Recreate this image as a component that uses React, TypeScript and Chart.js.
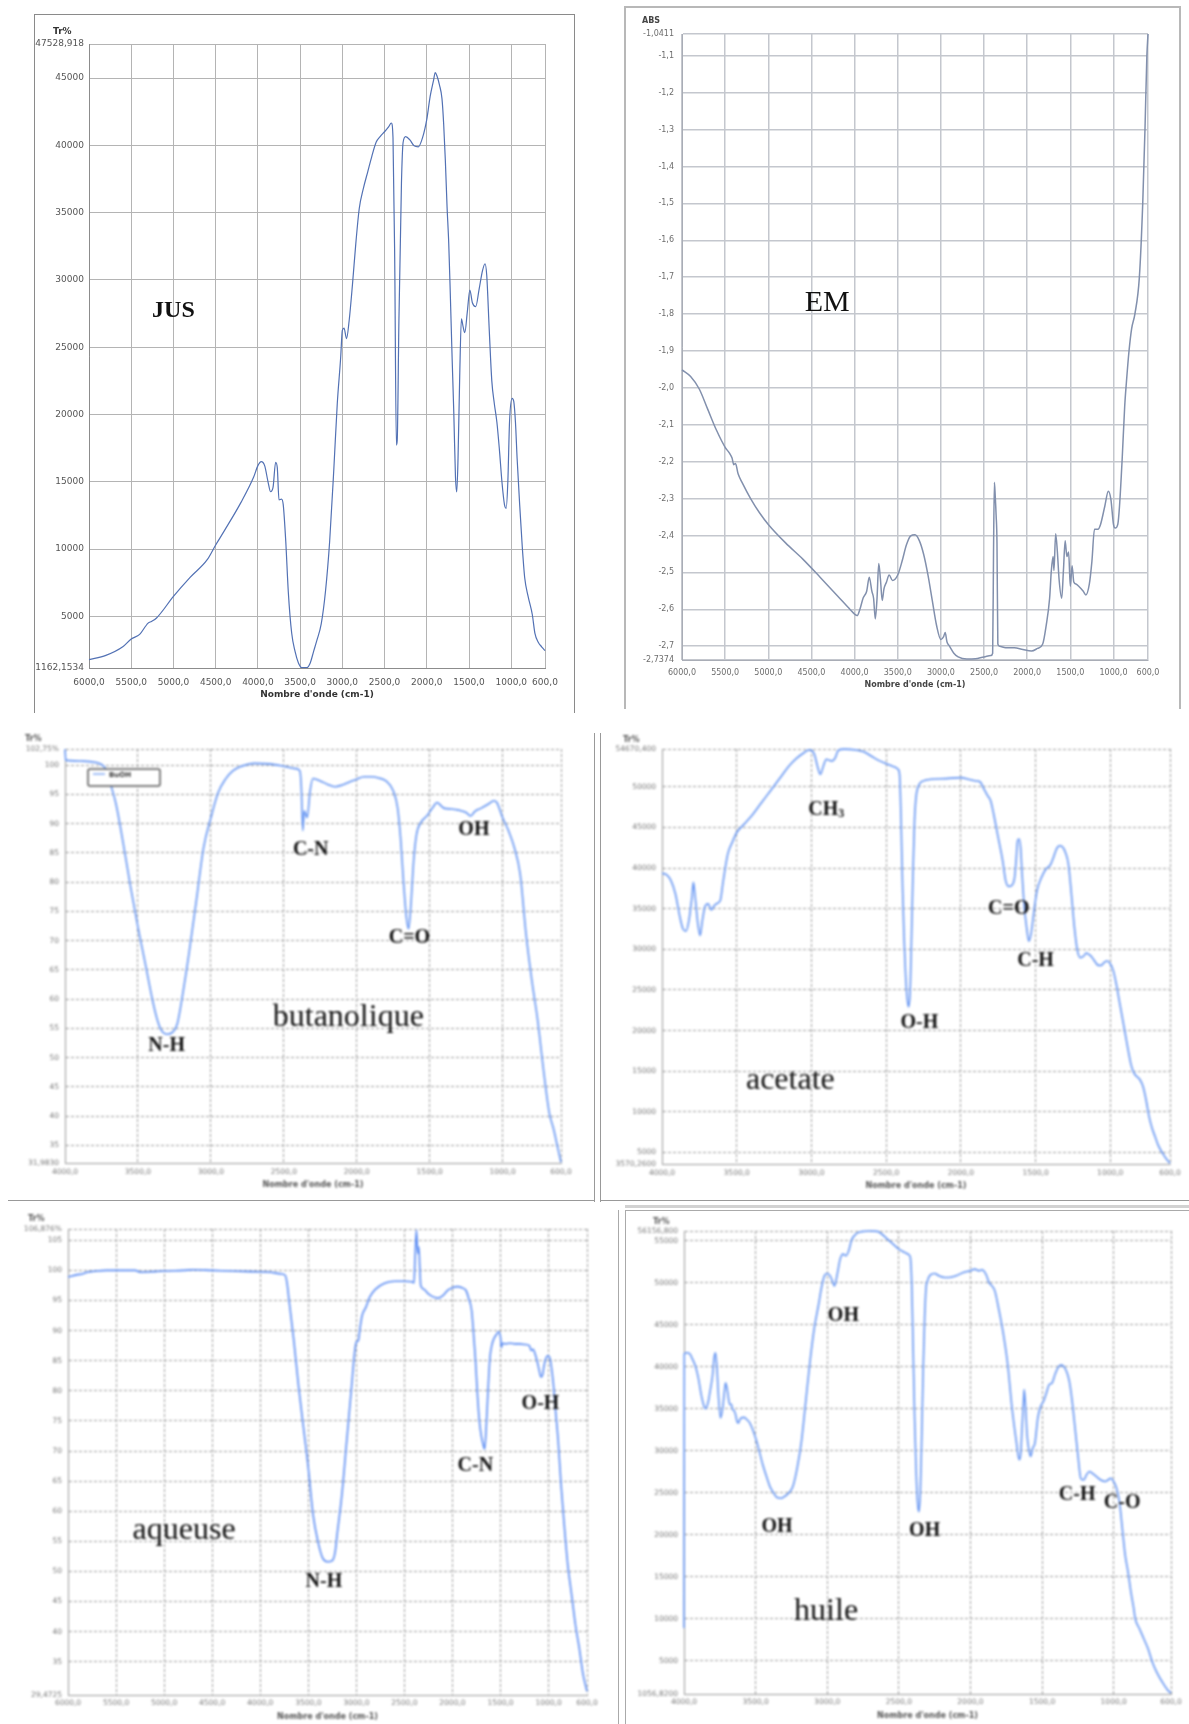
import { useEffect, useRef } from 'react';
import { Chart, registerables } from 'chart.js';

Chart.register(...registerables);

const SANS = '"DejaVu Sans", Verdana, sans-serif';
const SERIF = '"Liberation Serif", "Times New Roman", serif';
const X_TITLE = "Nombre d'onde (cm-1)";

// Wavenumber ticks (cm-1), axes run from high to low
const xTicksWide = [6000, 5500, 5000, 4500, 4000, 3500, 3000, 2500, 2000, 1500, 1000, 600];
const xTicksShort = [4000, 3500, 3000, 2500, 2000, 1500, 1000, 600];

// ---------- JUS (Tr%) ----------
const jusWavenumber = [6000, 5800, 5600, 5500, 5400, 5300, 5260, 5200, 5000, 4800, 4600, 4500, 4400, 4200, 4050, 4000, 3960, 3920, 3880, 3850, 3820, 3790, 3770, 3750, 3720, 3700, 3670, 3640, 3600, 3560, 3520, 3480, 3420, 3380, 3340, 3300, 3250, 3200, 3150, 3100, 3060, 3020, 3000, 2980, 2950, 2920, 2880, 2840, 2800, 2750, 2700, 2650, 2600, 2550, 2500, 2450, 2420, 2400, 2380, 2360, 2350, 2330, 2300, 2280, 2250, 2200, 2150, 2100, 2050, 2000, 1960, 1920, 1900, 1880, 1850, 1820, 1800, 1780, 1760, 1740, 1720, 1700, 1680, 1660, 1645, 1630, 1610, 1590, 1570, 1550, 1520, 1490, 1460, 1420, 1380, 1340, 1310, 1290, 1260, 1230, 1200, 1170, 1140, 1110, 1080, 1060, 1040, 1020, 990, 970, 950, 930, 900, 870, 840, 800, 750, 720, 680, 640, 600];
const jusTransmittance = [1780, 2100, 2740, 3320, 3660, 4500, 4620, 4880, 6480, 7910, 9210, 10300, 11330, 13470, 15350, 16200, 16500, 16200, 15000, 14260, 14600, 16450, 16030, 13650, 13710, 13300, 10580, 6830, 3760, 2400, 1540, 1200, 1200, 1540, 2400, 3250, 4440, 6830, 10580, 16030, 20800, 24200, 26250, 26420, 25640, 26930, 29660, 32730, 35290, 36820, 38010, 39200, 40230, 40670, 41010, 41390, 41660, 40570, 31700, 17730, 18070, 26930, 37160, 40230, 40640, 40400, 39960, 39890, 40570, 41930, 43640, 44830, 45410, 45170, 44490, 43470, 41590, 38860, 35460, 32730, 28640, 24210, 20120, 15340, 14250, 16710, 22850, 27100, 26530, 26080, 27620, 29250, 28300, 28020, 29320, 30690, 31200, 30340, 26250, 22500, 20800, 19440, 17390, 15000, 13300, 13030, 15000, 19440, 21200, 20970, 19440, 16710, 13300, 10240, 7850, 6480, 5120, 3760, 3080, 2740, 2460];
const jusYTicks = [1162.1534, 5000, 10000, 15000, 20000, 25000, 30000, 35000, 40000, 45000, 47528.918];

// ---------- EM (ABS) ----------
const emWavenumber = [6000, 5900, 5800, 5700, 5600, 5500, 5450, 5420, 5400, 5380, 5350, 5300, 5200, 5100, 5000, 4800, 4600, 4400, 4200, 4050, 4000, 3970, 3940, 3900, 3860, 3830, 3800, 3780, 3760, 3740, 3720, 3700, 3680, 3660, 3630, 3600, 3560, 3500, 3450, 3400, 3350, 3300, 3250, 3200, 3150, 3100, 3050, 3000, 2970, 2950, 2930, 2900, 2850, 2800, 2700, 2600, 2500, 2420, 2400, 2390, 2380, 2370, 2360, 2350, 2340, 2320, 2250, 2150, 2050, 1950, 1880, 1820, 1780, 1740, 1720, 1700, 1690, 1670, 1650, 1630, 1600, 1580, 1560, 1540, 1520, 1500, 1480, 1460, 1430, 1400, 1350, 1320, 1280, 1250, 1220, 1180, 1150, 1100, 1060, 1030, 1000, 980, 950, 930, 900, 870, 850, 820, 790, 752, 700, 661, 635, 613, 600];
const emAbsorbance = [-1.951, -1.969, -2.003, -2.059, -2.115, -2.161, -2.177, -2.19, -2.208, -2.205, -2.233, -2.258, -2.302, -2.339, -2.37, -2.42, -2.464, -2.513, -2.563, -2.601, -2.613, -2.617, -2.601, -2.569, -2.551, -2.513, -2.551, -2.57, -2.626, -2.57, -2.476, -2.52, -2.576, -2.545, -2.526, -2.507, -2.522, -2.507, -2.47, -2.426, -2.401, -2.398, -2.414, -2.451, -2.507, -2.576, -2.644, -2.682, -2.675, -2.663, -2.688, -2.7, -2.719, -2.729, -2.735, -2.734, -2.729, -2.725, -2.719, -2.445, -2.256, -2.295, -2.345, -2.42, -2.694, -2.7, -2.704, -2.704, -2.709, -2.713, -2.706, -2.694, -2.644, -2.57, -2.495, -2.457, -2.495, -2.395, -2.445, -2.52, -2.57, -2.495, -2.414, -2.457, -2.445, -2.538, -2.482, -2.526, -2.532, -2.538, -2.551, -2.561, -2.532, -2.47, -2.383, -2.383, -2.37, -2.32, -2.28, -2.302, -2.37, -2.38, -2.37, -2.32, -2.196, -2.05, -1.984, -1.9, -1.84, -1.8, -1.7, -1.5, -1.3, -1.1, -1.0411];
const emYTicks = [-2.7374, -2.7, -2.6, -2.5, -2.4, -2.3, -2.2, -2.1, -2.0, -1.9, -1.8, -1.7, -1.6, -1.5, -1.4, -1.3, -1.2, -1.1, -1.0411];

// ---------- Extrait butanolique (Tr%) ----------
const butWavenumber = [4000, 3995, 3990, 3900, 3800, 3750, 3720, 3680, 3650, 3600, 3550, 3500, 3450, 3400, 3370, 3340, 3300, 3260, 3230, 3200, 3150, 3100, 3050, 3000, 2950, 2900, 2850, 2800, 2700, 2600, 2500, 2420, 2390, 2380, 2370, 2360, 2340, 2320, 2300, 2250, 2200, 2150, 2100, 2050, 2000, 1950, 1900, 1850, 1800, 1750, 1720, 1700, 1680, 1660, 1645, 1630, 1610, 1590, 1560, 1520, 1480, 1450, 1420, 1400, 1350, 1300, 1250, 1220, 1190, 1150, 1100, 1060, 1040, 1000, 960, 920, 880, 840, 800, 760, 720, 680, 650, 620, 600];
const butTransmittance = [102.7, 100.9, 100.8, 100.7, 100.5, 100.1, 99.3, 96.1, 93.3, 86.5, 79.1, 72.3, 66.1, 59.8, 56.7, 54.7, 54.0, 54.4, 55.8, 59.8, 67.8, 76.8, 85.9, 91.0, 95.3, 97.6, 99.0, 99.7, 100.3, 100.2, 99.8, 99.4, 99.0, 96.1, 88.8, 92.2, 91.0, 95.6, 97.7, 97.3, 96.7, 96.3, 96.6, 97.1, 97.6, 98.0, 98.0, 97.8, 97.3, 95.6, 92.7, 87.6, 80.2, 74.0, 72.0, 75.7, 83.7, 88.2, 90.2, 91.3, 92.7, 93.6, 93.0, 92.6, 92.5, 92.3, 91.9, 91.3, 92.1, 92.6, 93.3, 93.9, 93.6, 91.0, 88.8, 85.9, 81.4, 71.2, 63.2, 56.4, 47.9, 40.5, 37.7, 34.3, 32.1];
const butYTicks = [31.983, 35, 40, 45, 50, 55, 60, 65, 70, 75, 80, 85, 90, 95, 100, 102.75];

// ---------- Extrait acetate (Tr%) ----------
const aceWavenumber = [4000, 3970, 3940, 3910, 3880, 3860, 3840, 3820, 3800, 3790, 3780, 3760, 3745, 3730, 3710, 3690, 3670, 3650, 3630, 3610, 3590, 3560, 3530, 3500, 3450, 3400, 3350, 3300, 3250, 3200, 3150, 3100, 3050, 3020, 3000, 2980, 2960, 2940, 2920, 2900, 2880, 2860, 2840, 2820, 2780, 2700, 2650, 2600, 2550, 2500, 2450, 2420, 2410, 2400, 2390, 2380, 2370, 2360, 2350, 2340, 2330, 2320, 2310, 2300, 2280, 2250, 2200, 2100, 2000, 1950, 1900, 1870, 1850, 1820, 1800, 1780, 1750, 1720, 1700, 1680, 1660, 1640, 1630, 1620, 1610, 1600, 1590, 1575, 1560, 1545, 1530, 1510, 1490, 1460, 1430, 1400, 1380, 1360, 1340, 1320, 1300, 1280, 1260, 1240, 1220, 1200, 1180, 1160, 1140, 1120, 1100, 1080, 1060, 1040, 1020, 1000, 980, 960, 940, 920, 900, 880, 860, 840, 820, 800, 780, 760, 740, 720, 700, 680, 650, 620, 600];
const aceTransmittance = [39360, 39200, 38460, 36820, 33960, 32530, 32240, 33550, 36410, 38260, 36820, 33140, 31710, 33550, 35390, 35600, 34860, 35390, 35680, 36010, 38460, 41730, 43170, 44390, 45420, 46440, 47670, 48900, 50120, 51350, 52580, 53520, 54210, 54540, 54500, 54010, 52580, 51550, 52580, 53400, 53270, 53190, 53600, 54500, 54660, 54540, 54340, 53810, 53270, 52860, 52500, 52170, 51550, 45830, 37640, 31500, 27000, 24140, 22910, 24550, 31500, 39690, 45830, 48690, 50250, 50740, 50940, 51020, 51150, 50940, 50740, 50610, 49920, 48900, 48280, 46640, 43780, 40920, 38460, 37760, 37850, 38870, 40920, 43370, 43580, 42550, 39280, 35190, 32730, 31010, 31910, 34780, 37230, 38870, 39890, 40420, 41320, 42350, 42760, 42630, 41940, 40510, 36820, 32730, 29870, 28970, 29130, 29540, 29340, 28970, 28440, 28030, 28030, 28400, 28560, 28230, 27410, 25770, 23730, 21680, 19640, 17590, 15750, 14730, 14320, 13910, 13090, 11450, 9400, 7970, 6950, 5920, 4900, 4080, 3670];
const aceYTicks = [3570.26, 5000, 10000, 15000, 20000, 25000, 30000, 35000, 40000, 45000, 50000, 54670.4];

// ---------- Extrait aqueux (Tr%) ----------
const aqWavenumber = [6000, 5950, 5900, 5850, 5800, 5700, 5600, 5400, 5300, 5250, 5100, 5000, 4800, 4700, 4500, 4300, 4100, 3900, 3780, 3740, 3720, 3700, 3650, 3600, 3550, 3500, 3450, 3400, 3350, 3300, 3250, 3220, 3200, 3150, 3100, 3050, 3020, 3000, 2980, 2960, 2940, 2900, 2860, 2800, 2700, 2600, 2500, 2420, 2400, 2390, 2375, 2360, 2350, 2340, 2330, 2300, 2250, 2200, 2150, 2100, 2050, 2000, 1950, 1900, 1860, 1830, 1800, 1780, 1760, 1740, 1720, 1700, 1680, 1665, 1650, 1630, 1610, 1590, 1570, 1540, 1520, 1500, 1490, 1480, 1450, 1400, 1350, 1300, 1250, 1200, 1180, 1160, 1140, 1120, 1100, 1080, 1060, 1050, 1030, 1010, 990, 970, 950, 930, 900, 870, 840, 800, 760, 720, 680, 640, 600];
const aqTransmittance = [98.9, 99.1, 99.3, 99.4, 99.7, 99.9, 100.0, 100.0, 100.0, 99.7, 99.8, 99.9, 100.0, 100.1, 100.0, 99.9, 99.8, 99.7, 99.4, 99.2, 97.8, 95.0, 88.3, 80.6, 73.9, 67.2, 59.4, 55.0, 52.2, 51.6, 51.8, 53.3, 56.1, 62.8, 71.7, 80.6, 86.1, 88.1, 88.3, 90.6, 92.5, 93.9, 95.6, 96.9, 97.9, 98.2, 98.2, 98.1, 97.9, 101.7, 106.7, 102.8, 103.9, 100.6, 97.5, 96.9, 96.1, 95.6, 95.4, 95.8, 96.7, 97.1, 97.3, 97.1, 96.7, 95.3, 93.3, 89.4, 85.0, 79.4, 75.0, 72.5, 71.0, 70.3, 73.5, 80.0, 85.5, 87.6, 88.6, 89.4, 89.8, 88.9, 87.2, 87.9, 87.8, 87.9, 87.8, 87.8, 87.7, 87.5, 86.7, 86.9, 86.1, 85.0, 83.6, 82.3, 82.8, 83.9, 85.3, 85.8, 85.6, 83.9, 81.1, 77.2, 71.7, 64.4, 58.3, 51.1, 46.1, 41.1, 37.2, 32.8, 30.1];
const aqYTicks = [29.4725, 35, 40, 45, 50, 55, 60, 65, 70, 75, 80, 85, 90, 95, 100, 105, 106.876];

// ---------- Huile (Tr%) ----------
const oilWavenumber = [4000, 3998, 3980, 3960, 3940, 3920, 3900, 3880, 3860, 3850, 3830, 3820, 3800, 3790, 3780, 3770, 3760, 3745, 3730, 3720, 3710, 3700, 3690, 3680, 3670, 3660, 3650, 3640, 3630, 3620, 3610, 3600, 3580, 3560, 3540, 3520, 3500, 3480, 3450, 3420, 3400, 3380, 3350, 3320, 3300, 3270, 3240, 3210, 3180, 3150, 3120, 3090, 3060, 3040, 3020, 3000, 2980, 2960, 2950, 2930, 2910, 2890, 2870, 2850, 2830, 2800, 2760, 2700, 2650, 2620, 2580, 2540, 2500, 2460, 2430, 2420, 2410, 2400, 2390, 2380, 2370, 2360, 2350, 2340, 2330, 2320, 2310, 2300, 2280, 2250, 2220, 2180, 2150, 2100, 2050, 2000, 1970, 1940, 1920, 1890, 1870, 1850, 1830, 1800, 1770, 1740, 1710, 1680, 1660, 1650, 1640, 1630, 1625, 1615, 1605, 1590, 1580, 1565, 1550, 1530, 1510, 1490, 1470, 1450, 1430, 1410, 1390, 1370, 1350, 1330, 1310, 1290, 1270, 1250, 1230, 1210, 1190, 1170, 1150, 1120, 1090, 1060, 1040, 1020, 1000, 980, 960, 940, 920, 900, 880, 860, 850, 820, 790, 760, 730, 700, 660, 620, 600];
const oilTransmittance = [8900, 41540, 41660, 41540, 40870, 40070, 38680, 36690, 35300, 35010, 35890, 36890, 39080, 41070, 41660, 39870, 36690, 33900, 35090, 36690, 38080, 37480, 36290, 35490, 35570, 34900, 34780, 34300, 33500, 33300, 33700, 33900, 33980, 33700, 33300, 32510, 31510, 30320, 28330, 26730, 25740, 25140, 24430, 24350, 24550, 24950, 25740, 27930, 31120, 35890, 40670, 44650, 47440, 49430, 50820, 51100, 50820, 50020, 49630, 51020, 52810, 53410, 53210, 53810, 55080, 55800, 56080, 56150, 56110, 55800, 55200, 54600, 54000, 53610, 53330, 53010, 49830, 41860, 33900, 27930, 23950, 22750, 25140, 31910, 39870, 45840, 49430, 50220, 50940, 51100, 50820, 50620, 50620, 50820, 51220, 51420, 51620, 51420, 51540, 50940, 50020, 49630, 49030, 46640, 43850, 40270, 35090, 31120, 28930, 29520, 32710, 35890, 37280, 35090, 31910, 29920, 29320, 30320, 30920, 33900, 35290, 35890, 36890, 37880, 38080, 39080, 39870, 40190, 40070, 39470, 38280, 35890, 32710, 29520, 26730, 26530, 27130, 27530, 27330, 26930, 26530, 26340, 26530, 26730, 26340, 25540, 23950, 20760, 17580, 15590, 13200, 11210, 10020, 8820, 7630, 6440, 4840, 3650, 2450, 1460, 1180];
const oilYTicks = [1056.82, 5000, 10000, 15000, 20000, 25000, 30000, 35000, 40000, 45000, 50000, 55000, 56156.8];

interface Note { text: string; wn: number; y: number; size: number; bold: boolean; sub?: string }
interface PanelSpec {
  plot: [number, number, number, number];
  yAxisWidth: number;
  xMin: number; xMax: number; xTicks: number[];
  yMin: number; yMax: number; yTicks: number[];
  yTopLabel: string; yBottomLabel: string; yDecimals: number;
  wn: number[]; values: number[];
  lineColor: string; lineWidth: number;
  gridColor: string; gridWidth: number; gridDash: number[];
  borderColor: string;
  tickSize: number; tickColor: string; xPad: number; yPad: number;
  yTitle: string; yTitleDx: number; yTitleDy: number;
  xTitleDy: number; titleSize: number; titleColor: string;
  notes: Note[];
  legend?: { dx: number; dy: number; w: number; h: number; label: string };
  blur: number;
}

const PAD_TOP = 30;
const PAD_RIGHT = 22;
const X_AXIS_H = 34;

const bold = (text: string, wn: number, y: number, size = 20, sub?: string): Note => ({ text, wn, y, size, bold: true, sub });
const plain = (text: string, wn: number, y: number, size = 32): Note => ({ text, wn, y, size, bold: false });

const panels: PanelSpec[] = [
  {
    plot: [89, 44, 545, 668], yAxisWidth: 62,
    xMin: 600, xMax: 6000, xTicks: xTicksWide,
    yMin: 1162.1534, yMax: 47528.918, yTicks: jusYTicks,
    yTopLabel: '47528,918', yBottomLabel: '1162,1534', yDecimals: 0,
    wn: jusWavenumber, values: jusTransmittance,
    lineColor: '#5271b4', lineWidth: 1.2,
    gridColor: '#b4b4b4', gridWidth: 1, gridDash: [],
    borderColor: '#8c8c8c',
    tickSize: 9, tickColor: '#555', xPad: 9, yPad: 5,
    yTitle: 'Tr%', yTitleDx: 36, yTitleDy: 12,
    xTitleDy: 27, titleSize: 9, titleColor: '#333',
    notes: [bold('JUS', 5000, 27700, 24)],
    blur: 0,
  },
  {
    plot: [682, 34, 1148, 660], yAxisWidth: 62,
    xMin: 600, xMax: 6000, xTicks: xTicksWide,
    yMin: -2.7374, yMax: -1.0411, yTicks: emYTicks,
    yTopLabel: '-1,0411', yBottomLabel: '-2,7374', yDecimals: 1,
    wn: emWavenumber, values: emAbsorbance,
    lineColor: '#8290ad', lineWidth: 1.5,
    gridColor: '#c4c7ce', gridWidth: 1.5, gridDash: [],
    borderColor: '#a9adb6',
    tickSize: 8, tickColor: '#6d6d6d', xPad: 8, yPad: 8,
    yTitle: 'ABS', yTitleDx: 40, yTitleDy: 13,
    xTitleDy: 25, titleSize: 8, titleColor: '#444',
    notes: [plain('EM', 4317, -1.77, 30)],
    blur: 0.5,
  },
  {
    plot: [65, 749, 561, 1163], yAxisWidth: 58,
    xMin: 600, xMax: 4000, xTicks: xTicksShort,
    yMin: 31.983, yMax: 102.75, yTicks: butYTicks,
    yTopLabel: '102,75%', yBottomLabel: '31,9830', yDecimals: 0,
    wn: butWavenumber, values: butTransmittance,
    lineColor: '#6595f2', lineWidth: 1.6,
    gridColor: '#9a9a9a', gridWidth: 1, gridDash: [3, 2],
    borderColor: '#9a9a9a',
    tickSize: 7.5, tickColor: '#777', xPad: 5, yPad: 6,
    yTitle: 'Tr%', yTitleDx: 40, yTitleDy: 10,
    xTitleDy: 22, titleSize: 8, titleColor: '#555',
    notes: [
      bold('N-H', 3303, 52.0), bold('C-N', 2316, 85.5), bold('C=O', 1639, 70.5),
      bold('OH', 1197, 88.9), plain('butanolique', 2058, 56.8, 32),
    ],
    legend: { dx: 23, dy: 20, w: 72, h: 17, label: 'BuOH' },
    blur: 0.8,
  },
  {
    plot: [662, 749, 1170, 1164], yAxisWidth: 60,
    xMin: 600, xMax: 4000, xTicks: xTicksShort,
    yMin: 3570.26, yMax: 54670.4, yTicks: aceYTicks,
    yTopLabel: '54670,400', yBottomLabel: '3570,2600', yDecimals: 0,
    wn: aceWavenumber, values: aceTransmittance,
    lineColor: '#6595f2', lineWidth: 1.6,
    gridColor: '#9a9a9a', gridWidth: 1, gridDash: [3, 2],
    borderColor: '#9a9a9a',
    tickSize: 7.5, tickColor: '#777', xPad: 5, yPad: 6,
    yTitle: 'Tr%', yTitleDx: 39, yTitleDy: 9,
    xTitleDy: 22, titleSize: 8, titleColor: '#555',
    notes: [
      bold('CH', 2900, 47136, 20, '3'), bold('O-H', 2277, 20950), bold('C=O', 1679, 34980),
      bold('C-H', 1500, 28640), plain('acetate', 3141, 13790, 32),
    ],
    blur: 0.8,
  },
  {
    plot: [68, 1229, 587, 1695], yAxisWidth: 60,
    xMin: 600, xMax: 6000, xTicks: xTicksWide,
    yMin: 29.4725, yMax: 106.876, yTicks: aqYTicks,
    yTopLabel: '106,876%', yBottomLabel: '29,4725', yDecimals: 0,
    wn: aqWavenumber, values: aqTransmittance,
    lineColor: '#5b8cf3', lineWidth: 1.6,
    gridColor: '#9a9a9a', gridWidth: 1, gridDash: [3, 2],
    borderColor: '#9a9a9a',
    tickSize: 7.5, tickColor: '#777', xPad: 4, yPad: 6,
    yTitle: 'Tr%', yTitleDx: 40, yTitleDy: 10,
    xTitleDy: 22, titleSize: 8, titleColor: '#555',
    notes: [
      bold('N-H', 3337, 48.3), bold('C-N', 1762, 67.5), bold('O-H', 1084, 77.9),
      plain('aqueuse', 4792, 56.8, 32),
    ],
    blur: 0.8,
  },
  {
    plot: [684, 1231, 1171, 1694], yAxisWidth: 62,
    xMin: 600, xMax: 4000, xTicks: xTicksShort,
    yMin: 1056.82, yMax: 56156.8, yTicks: oilYTicks,
    yTopLabel: '56156,800', yBottomLabel: '1056,8200', yDecimals: 0,
    wn: oilWavenumber, values: oilTransmittance,
    lineColor: '#6595f2', lineWidth: 1.6,
    gridColor: '#9a9a9a', gridWidth: 1, gridDash: [3, 2],
    borderColor: '#9a9a9a',
    tickSize: 7.5, tickColor: '#777', xPad: 4, yPad: 6,
    yTitle: 'Tr%', yTitleDx: 31, yTitleDy: 9,
    xTitleDy: 22, titleSize: 8, titleColor: '#555',
    notes: [
      bold('OH', 2887, 46040), bold('OH', 3351, 20960), bold('OH', 2320, 20445),
      bold('C-H', 1255, 24740), bold('C-O', 941, 23750), plain('huile', 3008, 10890, 32),
    ],
    blur: 0.8,
  },
];

// Page frame lines around the panels: [left, top, width, height, colour]
const frameLines: [number, number, number, number, string][] = [
  [34, 14, 1, 699, '#8a8a8a'], [34, 14, 540, 1, '#8a8a8a'], [574, 14, 1, 699, '#8a8a8a'],
  [624, 6, 1.5, 703, '#b8b8b8'], [624, 6, 556, 1.5, '#b8b8b8'], [1179, 6, 1.5, 703, '#b8b8b8'],
  [594, 733, 1, 469, '#999'], [600, 733, 1, 469, '#999'],
  [8, 1200, 586, 1, '#999'], [600, 1200, 589, 1, '#999'],
  [625, 1205, 564, 3, '#d2d2d2'],
  [618, 1210, 1, 514, '#aaa'], [625, 1210, 1, 514, '#aaa'], [625, 1210, 564, 1, '#aaa'],
];

function fmtX(v: number) {
  return Number(v).toFixed(1).replace('.', ',');
}

function SpectrumPanel({ spec }: { spec: PanelSpec }) {
  const ref = useRef<HTMLCanvasElement>(null);
  const [l, t, r, b] = spec.plot;
  const left = l - spec.yAxisWidth;
  const top = t - PAD_TOP;
  const width = r + PAD_RIGHT - left;
  const height = b + X_AXIS_H - top;

  useEffect(() => {
    const canvas = ref.current;
    if (!canvas) return;
    const points = spec.wn.map((x, i) => ({ x, y: spec.values[i] }));

    const decor = {
      id: 'decor',
      afterDraw(chart: any) {
        const { ctx, chartArea: a, scales } = chart;
        ctx.save();
        ctx.fillStyle = spec.titleColor;
        ctx.font = `bold ${spec.titleSize}px ${SANS}`;
        ctx.textAlign = 'left';
        ctx.textBaseline = 'middle';
        ctx.fillText(spec.yTitle, a.left - spec.yTitleDx, a.top - spec.yTitleDy);
        ctx.textAlign = 'center';
        ctx.fillText(X_TITLE, (a.left + a.right) / 2, a.bottom + spec.xTitleDy);

        if (spec.legend) {
          const g = spec.legend;
          const x0 = a.left + g.dx;
          const y0 = a.top + g.dy;
          ctx.fillStyle = '#fff';
          ctx.strokeStyle = '#555';
          ctx.lineWidth = 1.5;
          ctx.beginPath();
          ctx.roundRect(x0, y0, g.w, g.h, 2);
          ctx.fill();
          ctx.stroke();
          ctx.strokeStyle = spec.lineColor;
          ctx.lineWidth = 1.2;
          ctx.beginPath();
          ctx.moveTo(x0 + 5, y0 + 5);
          ctx.lineTo(x0 + 17, y0 + 5);
          ctx.stroke();
          ctx.fillStyle = '#333';
          ctx.font = `bold 7px ${SANS}`;
          ctx.textAlign = 'left';
          ctx.fillText(g.label, x0 + 21, y0 + 6);
        }

        ctx.fillStyle = '#111';
        ctx.textBaseline = 'middle';
        for (const n of spec.notes) {
          const px = scales.x.getPixelForValue(n.wn);
          const py = scales.y.getPixelForValue(n.y);
          const font = `${n.bold ? 'bold ' : ''}${n.size}px ${SERIF}`;
          ctx.font = font;
          if (n.sub) {
            const w1 = ctx.measureText(n.text).width;
            const subFont = `${n.bold ? 'bold ' : ''}${Math.round(n.size * 0.6)}px ${SERIF}`;
            ctx.font = subFont;
            const w2 = ctx.measureText(n.sub).width;
            const x0 = px - (w1 + w2) / 2;
            ctx.textAlign = 'left';
            ctx.font = font;
            ctx.fillText(n.text, x0, py);
            ctx.font = subFont;
            ctx.fillText(n.sub, x0 + w1, py + n.size * 0.2);
          } else {
            ctx.textAlign = 'center';
            ctx.fillText(n.text, px, py);
          }
        }
        ctx.restore();
      },
    };

    const chart = new Chart(canvas, {
      type: 'line',
      data: {
        datasets: [{
          data: points,
          borderColor: spec.lineColor,
          borderWidth: spec.lineWidth,
          pointRadius: 0,
          fill: false,
          clip: 4,
          cubicInterpolationMode: 'monotone',
        }],
      },
      options: {
        responsive: false,
        animation: false,
        devicePixelRatio: 1,
        layout: { padding: { left: 0, right: PAD_RIGHT, top: PAD_TOP, bottom: 0 } },
        plugins: { legend: { display: false }, tooltip: { enabled: false } },
        scales: {
          x: {
            type: 'linear',
            reverse: true,
            min: spec.xMin,
            max: spec.xMax,
            afterBuildTicks: (s: any) => { s.ticks = spec.xTicks.map((value) => ({ value })); },
            afterFit: (s: any) => { s.height = X_AXIS_H; },
            ticks: {
              autoSkip: false, maxRotation: 0, padding: spec.xPad,
              color: spec.tickColor, font: { family: SANS, size: spec.tickSize },
              callback: (v: any) => fmtX(Number(v)),
            },
            grid: { color: spec.gridColor, lineWidth: spec.gridWidth, drawTicks: false },
            border: { display: true, color: spec.borderColor, dash: spec.gridDash },
          },
          y: {
            type: 'linear',
            min: spec.yMin,
            max: spec.yMax,
            afterBuildTicks: (s: any) => { s.ticks = spec.yTicks.map((value) => ({ value })); },
            afterFit: (s: any) => { s.width = spec.yAxisWidth; },
            ticks: {
              autoSkip: false, padding: spec.yPad,
              color: spec.tickColor, font: { family: SANS, size: spec.tickSize },
              callback: (v: any) => {
                const n = Number(v);
                if (Math.abs(n - spec.yMax) < 1e-6) return spec.yTopLabel;
                if (Math.abs(n - spec.yMin) < 1e-6) return spec.yBottomLabel;
                return n.toFixed(spec.yDecimals).replace('.', ',');
              },
            },
            grid: { color: spec.gridColor, lineWidth: spec.gridWidth, drawTicks: false },
            border: { display: true, color: spec.borderColor, dash: spec.gridDash },
          },
        },
      } as any,
      plugins: [decor],
    });
    return () => chart.destroy();
  }, [spec]);

  return (
    <canvas
      ref={ref}
      width={width}
      height={height}
      style={{
        position: 'absolute', left, top, width, height,
        filter: spec.blur ? `blur(${spec.blur}px)` : undefined,
      }}
    />
  );
}

export default function App() {
  return (
    <div style={{ position: 'absolute', left: 0, top: 0, width: 1189, height: 1724, overflow: 'hidden', background: '#fff' }}>
      {frameLines.map(([x, y, w, h, c], i) => (
        <div key={i} style={{ position: 'absolute', left: x, top: y, width: w, height: h, background: c }} />
      ))}
      {panels.map((p, i) => <SpectrumPanel key={i} spec={p} />)}
    </div>
  );
}
